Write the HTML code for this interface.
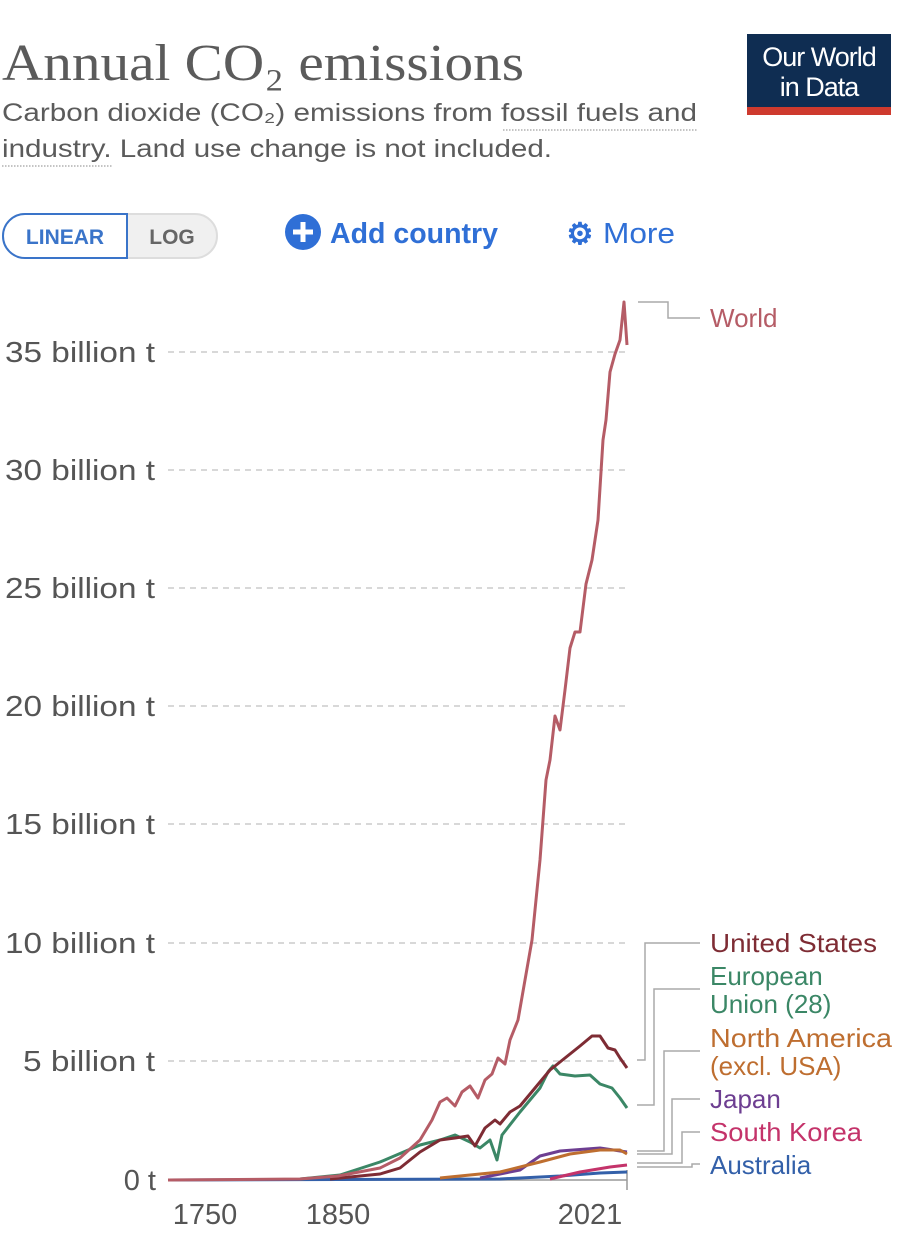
<!DOCTYPE html>
<html><head><meta charset="utf-8"><style>
body{margin:0;width:910px;height:1253px;background:#fff;overflow:hidden;font-family:"Liberation Sans",sans-serif;}
</style></head><body>
<svg width="910" height="1253" xmlns="http://www.w3.org/2000/svg" font-family="Liberation Sans, sans-serif">
<text x="2" y="80" font-family="Liberation Serif, serif" font-size="52" fill="#5b5b5b" textLength="522" lengthAdjust="spacingAndGlyphs">Annual CO₂ emissions</text>
<text x="2" y="121" font-size="25" fill="#5b5b5b" textLength="695" lengthAdjust="spacingAndGlyphs">Carbon dioxide (CO₂) emissions from fossil fuels and</text>
<line x1="503" y1="130" x2="697" y2="130" stroke="#888" stroke-dasharray="1.5,1.5"/>
<text x="2" y="157" font-size="25" fill="#5b5b5b" textLength="550" lengthAdjust="spacingAndGlyphs">industry. Land use change is not included.</text>
<line x1="2" y1="166" x2="113" y2="166" stroke="#888" stroke-dasharray="1.5,1.5"/>
<rect x="747" y="34" width="144" height="74" fill="#0f2d52"/>
<rect x="747" y="107" width="144" height="8" fill="#ce3a2e"/>
<text x="819" y="66" font-size="27" fill="#fff" text-anchor="middle" letter-spacing="-1">Our World</text>
<text x="819" y="96" font-size="27" fill="#fff" text-anchor="middle" letter-spacing="-1">in Data</text>
<rect x="3" y="214" width="214" height="44" rx="22" fill="#f0f0f0" stroke="#ddd" stroke-width="2"/>
<path d="M25 214 H127 V258 H25 A22 22 0 0 1 25 214 Z" fill="#fff" stroke="#3a74c9" stroke-width="2"/>
<text x="65" y="244" font-size="21" font-weight="bold" fill="#3a74c9" text-anchor="middle">LINEAR</text>
<text x="172" y="244" font-size="21" font-weight="bold" fill="#666" text-anchor="middle">LOG</text>
<circle cx="303" cy="232" r="18" fill="#2f6fd6"/>
<path d="M303 222 V242 M293 232 H313" stroke="#fff" stroke-width="5"/>
<text x="330" y="243" font-size="29" font-weight="bold" fill="#2f6fd6" textLength="168" lengthAdjust="spacingAndGlyphs">Add country</text>
<text x="580" y="244" font-size="30" font-weight="bold" fill="#2f6fd6" text-anchor="middle">⚙</text>
<text x="603" y="243" font-size="29" fill="#2f6fd6" textLength="72" lengthAdjust="spacingAndGlyphs">More</text>
<g stroke="#ccc" stroke-dasharray="6,5" stroke-width="1.5">
<line x1="168" y1="352" x2="625" y2="352"/><line x1="168" y1="470" x2="625" y2="470"/>
<line x1="168" y1="588" x2="625" y2="588"/><line x1="168" y1="706" x2="625" y2="706"/>
<line x1="168" y1="824" x2="625" y2="824"/><line x1="168" y1="943" x2="625" y2="943"/>
<line x1="168" y1="1061" x2="625" y2="1061"/>
</g>
<g font-size="29" fill="#555">
<text x="5" y="362" textLength="150" lengthAdjust="spacingAndGlyphs">35 billion t</text>
<text x="5" y="480" textLength="150" lengthAdjust="spacingAndGlyphs">30 billion t</text>
<text x="5" y="598" textLength="150" lengthAdjust="spacingAndGlyphs">25 billion t</text>
<text x="5" y="716" textLength="150" lengthAdjust="spacingAndGlyphs">20 billion t</text>
<text x="5" y="834" textLength="150" lengthAdjust="spacingAndGlyphs">15 billion t</text>
<text x="5" y="953" textLength="150" lengthAdjust="spacingAndGlyphs">10 billion t</text>
<text x="23" y="1071" textLength="132" lengthAdjust="spacingAndGlyphs">5 billion t</text>
<text x="156" y="1190" text-anchor="end">0 t</text>
</g>
<line x1="168" y1="1180" x2="627" y2="1180" stroke="#999" stroke-width="1.5"/>
<line x1="627" y1="1170" x2="627" y2="1190" stroke="#999" stroke-width="1.5"/>
<g font-size="29" fill="#555" text-anchor="middle">
<text x="205" y="1224">1750</text><text x="338" y="1224">1850</text><text x="590" y="1224">2021</text>
</g>
<g fill="none" stroke-width="3" stroke-linejoin="round">
<polyline stroke="#3360a9" points="168,1180 500,1179 560,1176 600,1173 627,1172"/>
<polyline stroke="#c4336a" points="550,1179 580,1172 610,1167 627,1165"/>
<polyline stroke="#6d3e91" points="480,1178 520,1170 540,1156 560,1151 600,1148 627,1152"/>
<polyline stroke="#be6e30" points="440,1178 500,1172 540,1162 570,1154 600,1150 620,1150 627,1154"/>
<polyline stroke="#3b8766" points="300,1179 340,1175 380,1162 420,1145 440,1140 455,1135 470,1142 480,1148 490,1140 497,1160 502,1135 520,1112 540,1088 548,1072 553,1066 560,1074 575,1076 590,1075 600,1084 612,1088 620,1098 627,1108"/>
<polyline stroke="#7e2c34" points="330,1179 380,1174 400,1168 420,1152 440,1140 455,1138 468,1136 475,1146 485,1128 495,1120 500,1124 510,1112 520,1106 535,1088 550,1070 565,1058 580,1046 592,1036 600,1036 608,1048 615,1050 620,1058 627,1068"/>
<polyline stroke="#b55c66" points="168,1180 300,1179 338,1176 380,1168 400,1158 420,1140 432,1120 440,1102 447,1098 455,1106 462,1092 470,1086 478,1098 485,1080 492,1074 498,1058 505,1064 510,1040 518,1020 525,980 532,940 540,860 546,780 550,760 555,716 560,730 565,690 570,648 575,632 580,632 586,584 592,560 598,520 603,440 606,420 610,372 615,354 620,340 624,302 627,345"/>
</g>
<g fill="none" stroke="#aaa" stroke-width="1.5">
<polyline points="638,302 668,302 668,318 700,318"/>
<polyline points="637,1060 645,1060 645,943 700,943"/>
<polyline points="637,1105 654,1105 654,989 700,989"/>
<polyline points="637,1151 664,1151 664,1051 700,1051"/>
<polyline points="637,1154 672,1154 672,1099 700,1099"/>
<polyline points="637,1163 682,1163 682,1132 700,1132"/>
<polyline points="637,1167 692,1167 692,1164 700,1164"/>
</g>
<g font-size="26">
<text x="710" y="327" fill="#b55c66">World</text>
<text x="710" y="952" fill="#7e2c34" textLength="167" lengthAdjust="spacingAndGlyphs">United States</text>
<text x="710" y="985" fill="#3b8766">European</text>
<text x="710" y="1013" fill="#3b8766">Union (28)</text>
<text x="710" y="1047" fill="#be6e30" textLength="182" lengthAdjust="spacingAndGlyphs">North America</text>
<text x="710" y="1075" fill="#be6e30">(excl. USA)</text>
<text x="710" y="1108" fill="#6d3e91">Japan</text>
<text x="710" y="1141" fill="#c4336a" textLength="152" lengthAdjust="spacingAndGlyphs">South Korea</text>
<text x="710" y="1174" fill="#3360a9">Australia</text>
</g>
</svg>
</body></html>
